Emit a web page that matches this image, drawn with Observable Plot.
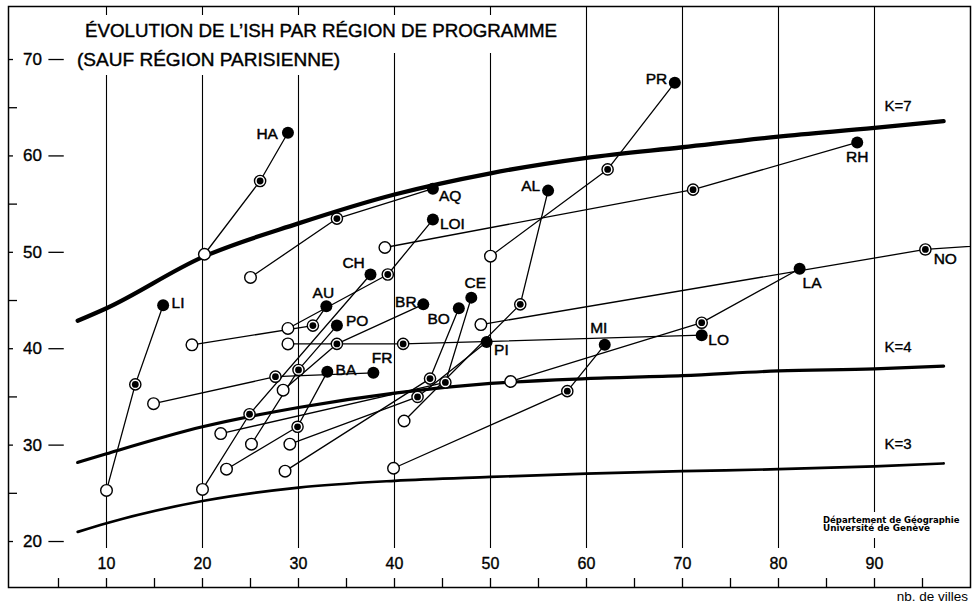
<!DOCTYPE html>
<html><head><meta charset="utf-8">
<script src="https://cdn.jsdelivr.net/npm/d3@7"></script>
<script src="https://cdn.jsdelivr.net/npm/@observablehq/plot@0.6"></script>
<style>
body{margin:0;background:#fff;}
#chart{position:absolute;left:0;top:0;}
</style></head><body><div id="chart"></div>
<script>
// ---- data ----
const regions = ["HA","AQ","RH","PR","LI","LO","MI","LA","NO","AL","AU","LOI","BA","PI","BO","CE","BR","PO","CH","FR"];
// first state (open circle)
const x0 = [20.2,25.0,39.0,50.0,10.0,28.9,39.9,52.1,49.0,41.0,18.9,28.9,22.5,29.1,28.6,21.9,28.4,25.1,20.0,14.9];
const y0 = [49.8,47.4,50.5,49.6,25.3,40.5,27.6,36.6,42.5,32.5,40.4,42.1,27.5,30.1,27.3,31.2,35.7,30.1,25.4,34.3];
// intermediate state (double circle)
const x1 = [26.0,34.0,71.1,62.2,13.0,40.9,58.0,72.0,95.3,53.1,31.5,39.3,29.9,42.4,43.7,45.3,34.0,30.0,24.9,27.6];
const y1 = [57.4,53.5,56.5,58.6,36.3,40.5,35.6,42.7,50.3,44.6,42.4,47.7,31.9,35.0,36.9,36.5,40.5,37.8,33.2,37.1];
// last state (filled circle) — NO runs beyond the frame
const x2 = [28.9,44.0,88.2,69.2,15.9,72.0,61.9,82.2,104.0,56.0,32.9,44.0,33.0,49.6,46.7,48.0,43.0,34.0,37.5,37.8];
const y2 = [62.4,56.6,61.4,67.6,44.5,41.4,40.4,48.3,50.9,56.4,44.4,53.4,37.6,40.7,44.2,45.3,44.6,42.4,47.7,37.5];

// reference curves K=7, K=4, K=3
const kX  = [7, 10, 20, 30, 40, 50, 60, 70, 80, 90, 97.2];
const k7  = [42.9,44.2,49.5,53.0,56.0,58.2,59.8,60.9,62.0,62.9,63.6];
const k4  = [28.2,29.1,31.9,33.9,35.4,36.4,36.9,37.2,37.7,37.9,38.2];
const k3  = [21.0,21.9,24.2,25.6,26.3,26.7,27.05,27.3,27.5,27.8,28.1];
const kNames = ["K=7","K=4","K=3"];

const xGrid = [10,20,30,40,50,60,70,80,90];
const xMinor = [5,10,15,20,25,30,35,40,45,50,55,60,65,70,75,80,85,90,95];
const yMajor = [20,30,40,50,60,70];
const yMinor = [25,35,45,55,65];

const titleLines = ["ÉVOLUTION DE L’ISH PAR RÉGION DE PROGRAMME", "(SAUF RÉGION PARISIENNE)"];
const captionLines = ["Département de Géographie", "Université de Genève"];
const xAxisLabel = "nb. de villes";

// ---- layout / styling (not data) ----
const labelLayout = {
  HA:["end",-10,1], PR:["end",-7.6,-4], RH:["middle",0,15], AQ:["start",6,7],
  AL:["end",-8,-5], LOI:["start",7,4.7], CH:["end",-5.7,-11.3], LI:["start",8.4,-2.3],
  AU:["middle",-3,-13.3], BR:["end",-6.7,-2.3], CE:["middle",4,-15], BO:["end",-9,11],
  PO:["start",9,-4.3], LA:["start",3,14.4], PI:["start",7.4,7.7], MI:["middle",-6,-17],
  LO:["start",6.6,5], BA:["start",8.3,-1.7], FR:["start",-1.6,-14.4], NO:["start",8.3,10]
};

const pts = regions.flatMap((r,i)=>[
  {region:r, stage:0, x:x0[i], y:y0[i]},
  {region:r, stage:1, x:x1[i], y:y1[i]},
  {region:r, stage:2, x:x2[i], y:y2[i]}
]);
const curves = [k7,k4,k3].flatMap((arr,j)=>kX.map((x,i)=>({k:kNames[j], x, y:arr[i]})));
const kWidths = {"K=7":4.3,"K=4":3.2,"K=3":2.7};

const yBottom = 15.23, yTop = 75.5;
const F = "Liberation Sans, Arial, Helvetica, sans-serif";
const bold = {fill:"black", stroke:"black", strokeWidth:0.35};

const labelMarks = regions.map((r)=>{
  const [anchor,dx,dy] = labelLayout[r];
  const p = pts.find(d=>d.region===r && d.stage=== (r==="NO"?1:2));
  return Plot.text([p], {x:"x", y:"y", text:d=>d.region, textAnchor:anchor, dx, dy, fontSize:15.5,
    fill:"black", stroke:"black", strokeWidth:0.45});
});

const chart = Plot.plot({
  width: 976, height: 610,
  marginTop: 6, marginBottom: 23, marginLeft: 8, marginRight: 6,
  x: {domain: [-0.208, 100], axis: null},
  y: {domain: [yBottom, yTop], axis: null},
  style: {fontFamily: F, background: "white", color: "black", overflow: "visible"},
  marks: [
    Plot.ruleX(xGrid, {y1: 19.27, y2: yTop, stroke:"black", strokeWidth:1.1}),
    Plot.frame({stroke:"black", strokeWidth:1.5}),
    Plot.ruleX(xMinor, {y1: yBottom, y2: 16.16, stroke:"black", strokeWidth:1.3}),
    Plot.text(xGrid, {x:d=>d, y:17.72, text:d=>String(d), fontSize:16, ...bold}),
    Plot.ruleY(yMajor, {x1:-0.208, x2:0.31, stroke:"black", strokeWidth:1.3}),
    Plot.ruleY(yMajor, {x1:4.0, x2:5.6, stroke:"black", strokeWidth:1.3}),
    Plot.ruleY(yMinor, {x1:-0.208, x2:0.73, stroke:"black", strokeWidth:1.3}),
    Plot.text(yMajor, {x:2.29, y:d=>d, text:d=>String(d), fontSize:17, ...bold}),
    Plot.line(curves, {x:"x", y:"y", z:"k", curve:"monotone-x", stroke:"black", strokeWidth:d=>kWidths[d.k]}),
    Plot.text(curves.filter(d=>d.x===90), {x:"x", y:"y", text:"k", textAnchor:"start", dx:10, dy:-22, fontSize:15, ...bold}),
    Plot.line(pts, {x:"x", y:"y", z:"region", stroke:"black", strokeWidth:1.3, clip:true}),
    Plot.dot(pts.filter(d=>d.stage===0), {x:"x", y:"y", r:5.8, fill:"white", stroke:"black", strokeWidth:1.4}),
    Plot.dot(pts.filter(d=>d.stage===1), {x:"x", y:"y", r:5.6, fill:"white", stroke:"black", strokeWidth:1.4}),
    Plot.dot(pts.filter(d=>d.stage===1), {x:"x", y:"y", r:3.4, fill:"black"}),
    Plot.dot(pts.filter(d=>d.stage===2), {x:"x", y:"y", r:6, fill:"black", clip:true}),
    ...labelMarks
  ]
});
document.getElementById("chart").appendChild(chart);

// titles, caption, axis label (text positioned in the frame)
const svg = d3.select(chart);
const g = svg.append("g").attr("font-family", F).attr("fill","black").attr("text-anchor","start");
g.append("rect").attr("x",78).attr("y",15).attr("width",488).attr("height",38).attr("fill","white");
g.append("rect").attr("x",70).attr("y",40).attr("width",278).attr("height",35).attr("fill","white");
g.append("text").attr("x",85).attr("y",36.5).attr("font-size",17.5).attr("text-anchor","start")
  .attr("fill","black").attr("stroke","black").attr("stroke-width",0.4)
  .attr("textLength",472).attr("lengthAdjust","spacingAndGlyphs").text(titleLines[0]);
g.append("text").attr("x",77).attr("y",66).attr("font-size",17.5).attr("text-anchor","start")
  .attr("fill","black").attr("stroke","black").attr("stroke-width",0.4)
  .attr("textLength",263).attr("lengthAdjust","spacingAndGlyphs").text(titleLines[1]);

g.append("rect").attr("x",819).attr("y",512).attr("width",145).attr("height",26).attr("fill","white");
g.append("text").attr("x",823).attr("y",522.8).attr("font-size",8).attr("font-weight","bold").attr("text-anchor","start")
  .attr("font-family","DejaVu Sans, sans-serif")
  .attr("textLength",136.5).attr("lengthAdjust","spacingAndGlyphs").text(captionLines[0]);
g.append("text").attr("x",823).attr("y",531.1).attr("font-size",8).attr("font-weight","bold").attr("text-anchor","start")
  .attr("font-family","DejaVu Sans, sans-serif")
  .attr("textLength",107).attr("lengthAdjust","spacingAndGlyphs").text(captionLines[1]);

g.append("text").attr("x",968).attr("y",601).attr("font-size",13.5).attr("text-anchor","end").attr("fill","black").text(xAxisLabel);
</script></body></html>
